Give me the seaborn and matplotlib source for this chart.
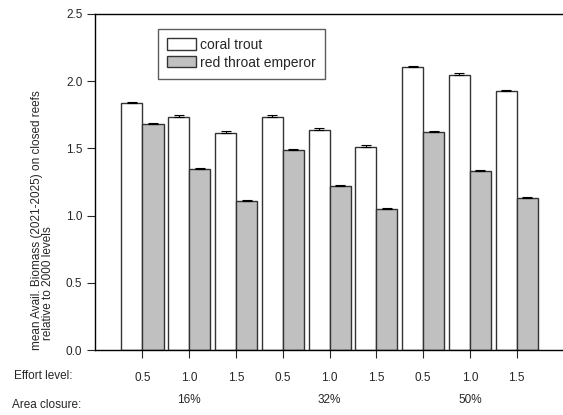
import matplotlib
matplotlib.use("Agg")
import matplotlib.pyplot as plt
import matplotlib.transforms as mtransforms
import numpy as np
import pandas as pd
import seaborn as sns

# Scenario values: mean available biomass relative to 2000 levels
effort_levels = ["0.5", "1.0", "1.5", "0.5", "1.0", "1.5", "0.5", "1.0", "1.5"]
area_closures = ["16%", "32%", "50%"]
species = ["coral trout", "red throat emperor"]
coral_trout = [1.835, 1.736, 1.617, 1.736, 1.639, 1.513, 2.103, 2.043, 1.925]
coral_trout_se = [0.012, 0.013, 0.010, 0.010, 0.010, 0.010, 0.010, 0.015, 0.010]
red_throat = [1.679, 1.344, 1.106, 1.488, 1.220, 1.049, 1.622, 1.329, 1.128]
red_throat_se = [0.010, 0.008, 0.008, 0.008, 0.008, 0.008, 0.010, 0.008, 0.008]

scenarios = [f"s{i}" for i in range(len(effort_levels))]
df = pd.DataFrame({
    "scenario": scenarios * 2,
    "value": coral_trout + red_throat,
    "se": coral_trout_se + red_throat_se,
    "species": [species[0]] * len(scenarios) + [species[1]] * len(scenarios),
})

sns.set_style("white")
plt.rcParams["font.family"] = ["Liberation Sans", "DejaVu Sans"]

W, H = 563, 415
fig = plt.figure(figsize=(W / 100, H / 100), dpi=100)
ax = fig.add_axes([95 / W, 1 - 350 / H, (W - 95) / W, (350 - 14) / H])

sns.barplot(data=df, x="scenario", y="value", hue="species", order=scenarios,
            hue_order=species, palette=["white", "#c0c0c0"], width=0.9,
            edgecolor="#333333", linewidth=1.0, errorbar=None, ax=ax,
            saturation=1)

# upward-only error bars at each bar centre
for patch_group, ser in zip(ax.containers, [coral_trout_se, red_throat_se]):
    xs = [p.get_x() + p.get_width() / 2 for p in patch_group]
    ys = [p.get_height() for p in patch_group]
    ax.errorbar(xs, ys, yerr=[np.zeros(len(ser)), ser], fmt="none",
                ecolor="black", elinewidth=0.8, capsize=3.5, capthick=0.8,
                zorder=5)

ax.set_xlim(-1.015, 8.99)
ax.set_ylim(0, 2.5)
ax.set_yticks([0, 0.5, 1.0, 1.5, 2.0, 2.5])
ax.set_yticklabels(["0.0", "0.5", "1.0", "1.5", "2.0", "2.5"])
ax.set_xticks(range(len(scenarios)))
ax.set_xticklabels(effort_levels)
ax.set_xlabel("")
ax.set_ylabel("")
ax.tick_params(axis="y", direction="out", length=6, width=0.8, pad=3,
               labelsize=8.5, left=True)
ax.tick_params(axis="x", direction="out", length=6, width=0.8, pad=10,
               labelsize=8.5, bottom=True)
for side in ["left", "top", "bottom"]:
    ax.spines[side].set_visible(True)
    ax.spines[side].set_color("black")
    ax.spines[side].set_linewidth(1.0)
ax.spines["right"].set_visible(False)

# legend box
handles, labels = ax.get_legend_handles_labels()
leg = ax.legend(handles, labels, loc="upper left",
                bbox_to_anchor=(158 / W, 1 - 29 / H),
                bbox_transform=fig.transFigure, frameon=True, fancybox=False,
                fontsize=10, handlelength=2.1, handleheight=0.9,
                borderpad=0.65, labelspacing=0.25, handletextpad=0.3,
                borderaxespad=0)
leg.get_frame().set_edgecolor("#333333")
leg.get_frame().set_linewidth(1.0)
for h in leg.legend_handles:
    h.set_edgecolor("#333333")

# row titles and closure labels beneath the axis
fig.text(14 / W, 1 - 376 / H, "Effort level:", fontsize=8.5, va="center", ha="left")
fig.text(12 / W, 1 - 405 / H, "Area closure:", fontsize=8.5, va="center", ha="left")
trans = mtransforms.blended_transform_factory(ax.transData, fig.transFigure)
for i, lab in enumerate(area_closures):
    ax.text(1 + 3 * i, 1 - 400 / H, lab, transform=trans, fontsize=8.5,
            ha="center", va="center")

# two-line y label
fig.text(37 / W, 1 - 350 / H, "mean Avail. Biomass (2021-2025) on closed reefs",
         rotation=90, ha="center", va="bottom", fontsize=8.5)
fig.text(48 / W, 1 - 340 / H, "relative to 2000 levels",
         rotation=90, ha="center", va="bottom", fontsize=8.5)

fig.savefig("out.png", dpi=100)
